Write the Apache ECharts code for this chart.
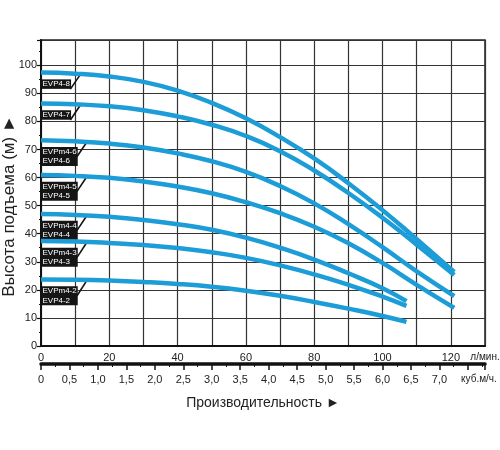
<!DOCTYPE html>
<html>
<head>
<meta charset="utf-8">
<script src="https://cdn.jsdelivr.net/npm/echarts@6/dist/echarts.min.js"></script>
<style>
html, body { margin: 0; padding: 0; background: #fff; }
#chart { width: 500px; height: 450px; }
</style>
</head>
<body>
<div id="chart"></div>
<script>
// расход, л/мин
var flowLong = [0, 10, 20, 30, 40, 50, 60, 70, 80, 90, 100, 110, 121];
var flowShort = [0, 10, 20, 30, 40, 50, 60, 70, 80, 90, 100, 107];
// напор, м
var headEVP8 = [97.4, 97.0, 96.0, 94.1, 91.0, 86.6, 81.1, 74.4, 66.8, 58.0, 48.4, 38.0, 26.4];
var headEVP7 = [86.4, 86.1, 85.4, 84.0, 81.8, 78.8, 74.8, 69.4, 62.5, 54.5, 45.7, 36.1, 25.3];
var headEVP6 = [73.3, 72.9, 72.1, 70.7, 68.6, 65.8, 62.0, 57.0, 50.8, 43.4, 35.2, 26.6, 17.8];
var headEVP5 = [60.9, 60.6, 59.9, 58.6, 56.8, 54.4, 51.2, 47.3, 42.5, 36.6, 29.6, 21.8, 13.6];
var headEVP4 = [47.0, 46.7, 46.0, 44.9, 43.4, 41.4, 38.6, 35.0, 30.8, 25.9, 20.6, 16.0];
var headEVP3 = [37.4, 37.2, 36.7, 36.0, 34.9, 33.4, 31.4, 28.7, 25.5, 21.8, 17.6, 14.3];
var headEVP2 = [23.7, 23.6, 23.3, 22.8, 22.1, 21.1, 19.7, 17.9, 15.7, 13.3, 10.7, 8.6];
var pumpNames = ['EVP4-8', 'EVP4-7', 'EVPm4-6\nEVP4-6', 'EVPm4-5\nEVP4-5',
    'EVPm4-4\nEVP4-4', 'EVPm4-3\nEVP4-3', 'EVPm4-2\nEVP4-2'];

var curves = [
    { x: flowLong, y: headEVP8, name: pumpNames[0] },
    { x: flowLong, y: headEVP7, name: pumpNames[1] },
    { x: flowLong, y: headEVP6, name: pumpNames[2] },
    { x: flowLong, y: headEVP5, name: pumpNames[3] },
    { x: flowShort, y: headEVP4, name: pumpNames[4] },
    { x: flowShort, y: headEVP3, name: pumpNames[5] },
    { x: flowShort, y: headEVP2, name: pumpNames[6] }
];

var lineColor = '#1d9dd7';
var gridColor = '#333';
var textColor = '#222';
var font = 'Liberation Sans';

var myChart = echarts.init(document.getElementById('chart'));
var option = {
    animation: false
    , grid: {
        left: 41
        , right: 15
        , top: 40
        , bottom: 104
        , outerBoundsMode: 'none'
        , containLabel: false
        , show: true
        , borderColor: '#222'
        , borderWidth: 1.5
    }
    , xAxis: [
        {
            type: 'value'
            , position: 'bottom'
            , min: 0
            , max: 130
            , interval: 10
            , axisLine: { show: true, lineStyle: { color: '#111', width: 2 } }
            , axisTick: { show: false }
            , axisLabel: {
                color: textColor
                , fontSize: 11
                , fontFamily: font
                , margin: 6
                , formatter: function (v) {
                    if (v === 130) return '{u|л/мин.}';
                    return v % 20 === 0 ? String(v) : '';
                }
                , rich: {
                    u: { fontSize: 10, fontFamily: font, color: textColor }
                }
            }
            , splitLine: { show: true, lineStyle: { color: gridColor, width: 1.2 } }
        }
        , {
            type: 'value'
            , position: 'bottom'
            , offset: 18
            , min: 0
            , max: 7.8
            , interval: 0.5
            , axisLine: { show: true, lineStyle: { color: '#111', width: 3.5 } }
            , axisTick: { show: true, length: 6, lineStyle: { color: '#111', width: 1.5 } }
            , minorTick: { show: true, splitNumber: 2, length: 3, lineStyle: { color: '#111' } }
            , axisLabel: {
                color: textColor
                , fontSize: 11
                , fontFamily: font
                , margin: 10
                , showMaxLabel: false
                , formatter: function (v) {
                    if (v === 7.5) return '{u|куб.м/ч.}';
                    if (v === 0) return '0';
                    return v.toFixed(1).replace('.', ',');
                }
                , rich: {
                    u: { fontSize: 10, fontFamily: font, color: textColor, padding: [0, 0, 0, 22] }
                }
            }
            , splitLine: { show: false }
            , name: 'Производительность ►'
            , nameLocation: 'middle'
            , nameGap: 32
            , nameTextStyle: { fontSize: 14, color: textColor, fontFamily: font }
        }
    ]
    , yAxis: [
        {
            type: 'value'
            , min: 0
            , max: 109
            , interval: 10
            , axisLine: { show: true, lineStyle: { color: '#111', width: 2 } }
            , axisTick: { show: true, length: 4, lineStyle: { color: '#111', width: 1.2 } }
            , minorTick: { show: true, splitNumber: 2, length: 2, lineStyle: { color: '#111' } }
            , axisLabel: {
                color: textColor
                , fontSize: 11
                , fontFamily: font
                , margin: 4
                , showMaxLabel: false
            }
            , splitLine: { show: true, lineStyle: { color: gridColor, width: 1.2 } }
            , name: 'Высота подъема (м) ►'
            , nameLocation: 'middle'
            , nameGap: 23
            , nameMoveOverlap: false
            , nameTextStyle: { fontSize: 17, color: textColor, fontFamily: font, padding: [0, 26, 0, 0] }
        }
    ]
    , series: []
};

for (var i = 0; i < curves.length; i++) {
    var c = curves[i];
    var pts = [];
    for (var k = 0; k < c.x.length; k++) {
        pts.push([c.x[k], c.y[k]]);
    }
    var twoLines = c.name.indexOf('\n') >= 0;
    var boxTop = c.y[0] - 2.6;
    var boxRight = twoLines ? 10.6 : 8.7;
    option.series.push({
        type: 'line'
        , xAxisIndex: 0
        , yAxisIndex: 0
        , smooth: true
        , symbol: 'none'
        , data: pts
        , lineStyle: { color: lineColor, width: 4.5, cap: 'butt' }
        , z: 5
        , markPoint: {
            symbol: 'rect'
            , symbolSize: 1
            , silent: true
            , itemStyle: { color: 'rgba(0,0,0,0)' }
            , label: {
                show: true
                , position: [1, 0]
                , align: 'left'
                , verticalAlign: 'top'
                , color: '#fff'
                , backgroundColor: '#151515'
                , fontSize: 8
                , lineHeight: 9.5
                , fontFamily: font
                , padding: [0, 1, 0, 1]
                , formatter: function (p) { return p.name; }
            }
            , data: [{ name: c.name, coord: [0, boxTop] }]
        }
        , markLine: {
            silent: true
            , symbol: ['none', 'none']
            , label: { show: false }
            , lineStyle: { color: '#111', width: 1.6, type: 'solid' }
            , data: [[{ coord: [boxRight - 0.1, boxTop - 3.3] }, { coord: [boxRight + 2.7, c.y[1] - 0.5] }]]
        }
    });
}

myChart.setOption(option);
</script>
</body>
</html>
